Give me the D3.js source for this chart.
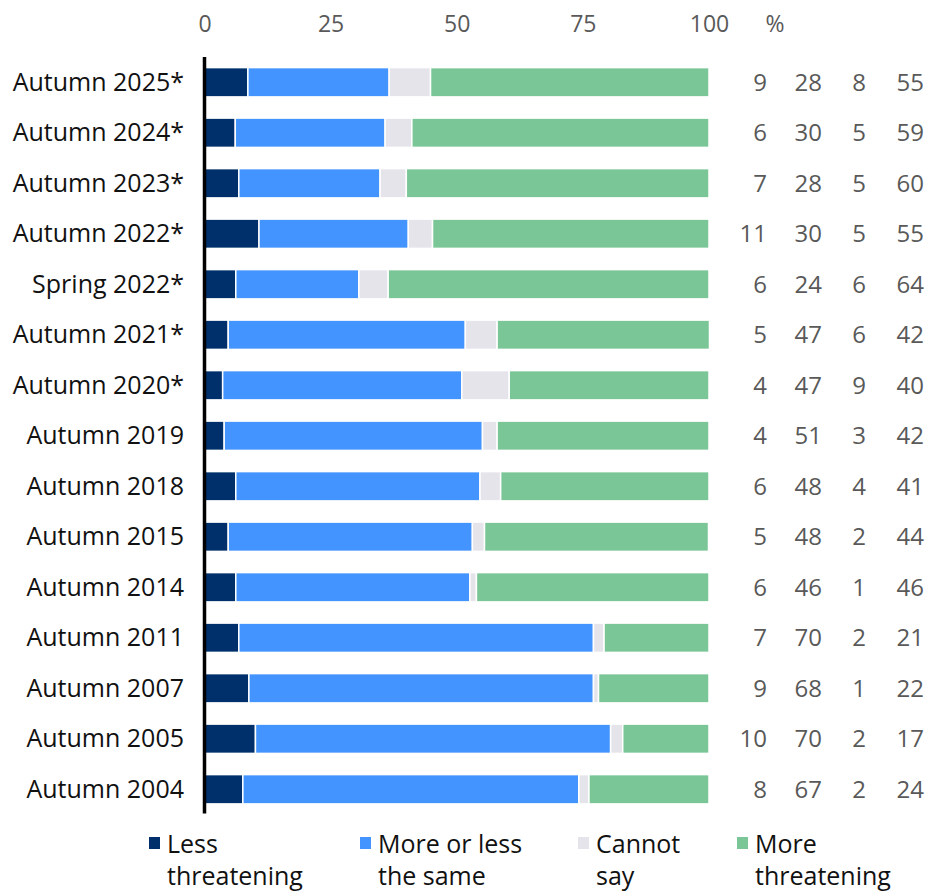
<!DOCTYPE html>
<html>
<head>
<meta charset="utf-8">
<script src="https://cdn.jsdelivr.net/npm/d3@7"></script>
<style>
    body { margin: 0; background: #fff; }
    svg { display: block; font-family: "Open Sans", "Noto Sans", sans-serif; }
</style>
</head>
<body>
<div id="chart"></div>
<script>
// Survey rounds, newest first
const categories = [
    'Autumn 2025*', 'Autumn 2024*', 'Autumn 2023*', 'Autumn 2022*', 'Spring 2022*',
    'Autumn 2021*', 'Autumn 2020*', 'Autumn 2019', 'Autumn 2018', 'Autumn 2015',
    'Autumn 2014', 'Autumn 2011', 'Autumn 2007', 'Autumn 2005', 'Autumn 2004'
];

// Shares in % (labels are the rounded values)
const lessThreatening = [8.6, 6.1, 6.8, 10.8, 6.2, 4.7, 3.6, 3.9, 6.2, 4.7, 6.2, 6.8, 8.8, 10.1, 7.6];
const moreOrLessSame  = [28.0, 29.7, 28.0, 29.6, 24.4, 47.0, 47.4, 51.2, 48.4, 48.4, 46.4, 70.3, 68.3, 70.4, 66.6];
const cannotSay       = [8.2, 5.3, 5.2, 4.8, 5.8, 6.3, 9.4, 2.9, 4.1, 2.4, 1.3, 2.1, 1.0, 2.4, 2.0];
const moreThreatening = [55.2, 58.9, 60.0, 54.8, 63.6, 42.1, 39.6, 42.0, 41.3, 44.4, 46.1, 20.8, 21.9, 17.1, 23.8];

const xTicks = [0, 25, 50, 75, 100];

const seriesNames = ['Less threatening', 'More or less the same', 'Cannot say', 'More threatening'];
const legendLines = [['Less', 'threatening'], ['More or less', 'the same'], ['Cannot', 'say'], ['More', 'threatening']];
const seriesColors = ['#00306b', '#4394fe', '#e6e4eb', '#7bc697'];

const W = 929, H = 892;

const rows = categories.map((c, i) => ({
    cat: c,
    vals: [lessThreatening[i], moreOrLessSame[i], cannotSay[i], moreThreatening[i]]
}));

const svg = d3.select('#chart').append('svg')
    .attr('width', W)
    .attr('height', H);

const x = d3.scaleLinear().domain([0, 100]).range([204.5, 709]);
const y = d3.scaleBand().domain(categories).range([57, 814.5])
    .paddingInner(0.42).paddingOuter(0.21);

// Top axis labels
const ax = svg.append('g')
    .attr('transform', 'translate(0,32)')
    .call(d3.axisTop(x).tickValues(xTicks).tickSize(0).tickPadding(0));
ax.select('.domain').remove();
ax.selectAll('text')
    .attr('font-size', 23)
    .attr('font-family', '"Open Sans", sans-serif')
    .attr('fill', '#595959');

svg.append('text')
    .attr('x', 775).attr('y', 32)
    .attr('text-anchor', 'middle')
    .attr('font-size', 23)
    .attr('fill', '#595959')
    .text('%');

// Stacked bars
const rowG = svg.selectAll('.row').data(rows).enter().append('g')
    .attr('class', 'row');

rowG.each(function (d) {
    let acc = 0;
    const segs = d.vals.map((v, k) => {
        const s = { x0: acc, x1: acc + v, k };
        acc += v;
        return s;
    });
    d3.select(this).selectAll('rect').data(segs).enter().append('rect')
        .attr('x', s => x(s.x0))
        .attr('width', s => Math.max(0, x(s.x1) - x(s.x0)))
        .attr('y', y(d.cat))
        .attr('height', y.bandwidth())
        .attr('fill', s => seriesColors[s.k])
        .attr('stroke', '#fff')
        .attr('stroke-width', 1.5);
});

// Category labels
svg.selectAll('.cat').data(rows).enter().append('text')
    .attr('class', 'cat')
    .attr('x', 184)
    .attr('y', d => y(d.cat) + y.bandwidth() / 2 + 8.5)
    .attr('text-anchor', 'end')
    .attr('font-size', 25)
    .attr('fill', '#111')
    .text(d => d.cat);

// Value columns on the right
const colX = [767, 822, 866, 924];
rows.forEach(d => {
    d.vals.forEach((v, k) => {
        svg.append('text')
            .attr('x', colX[k])
            .attr('y', y(d.cat) + y.bandwidth() / 2 + 8.5)
            .attr('text-anchor', 'end')
            .attr('font-size', 24)
            .attr('fill', '#595959')
            .text(Math.round(v));
    });
});

// Zero line
svg.append('line')
    .attr('x1', x(0)).attr('x2', x(0))
    .attr('y1', 57).attr('y2', 813.5)
    .attr('stroke', '#000')
    .attr('stroke-width', 3.5);

// Legend
const legX = [149, 360, 578, 737];
const leg = svg.selectAll('.leg').data(seriesNames).enter().append('g')
    .attr('class', 'leg')
    .attr('transform', (d, i) => `translate(${legX[i]},0)`);
leg.append('rect')
    .attr('x', 0).attr('y', 837)
    .attr('width', 11).attr('height', 12)
    .attr('fill', (d, i) => seriesColors[i]);
leg.append('text')
    .attr('font-size', 25)
    .attr('fill', '#111')
    .selectAll('tspan')
    .data((d, i) => legendLines[i])
    .enter().append('tspan')
    .attr('x', 18)
    .attr('y', (t, j) => 853 + j * 32)
    .text(t => t);
</script>
</body>
</html>
